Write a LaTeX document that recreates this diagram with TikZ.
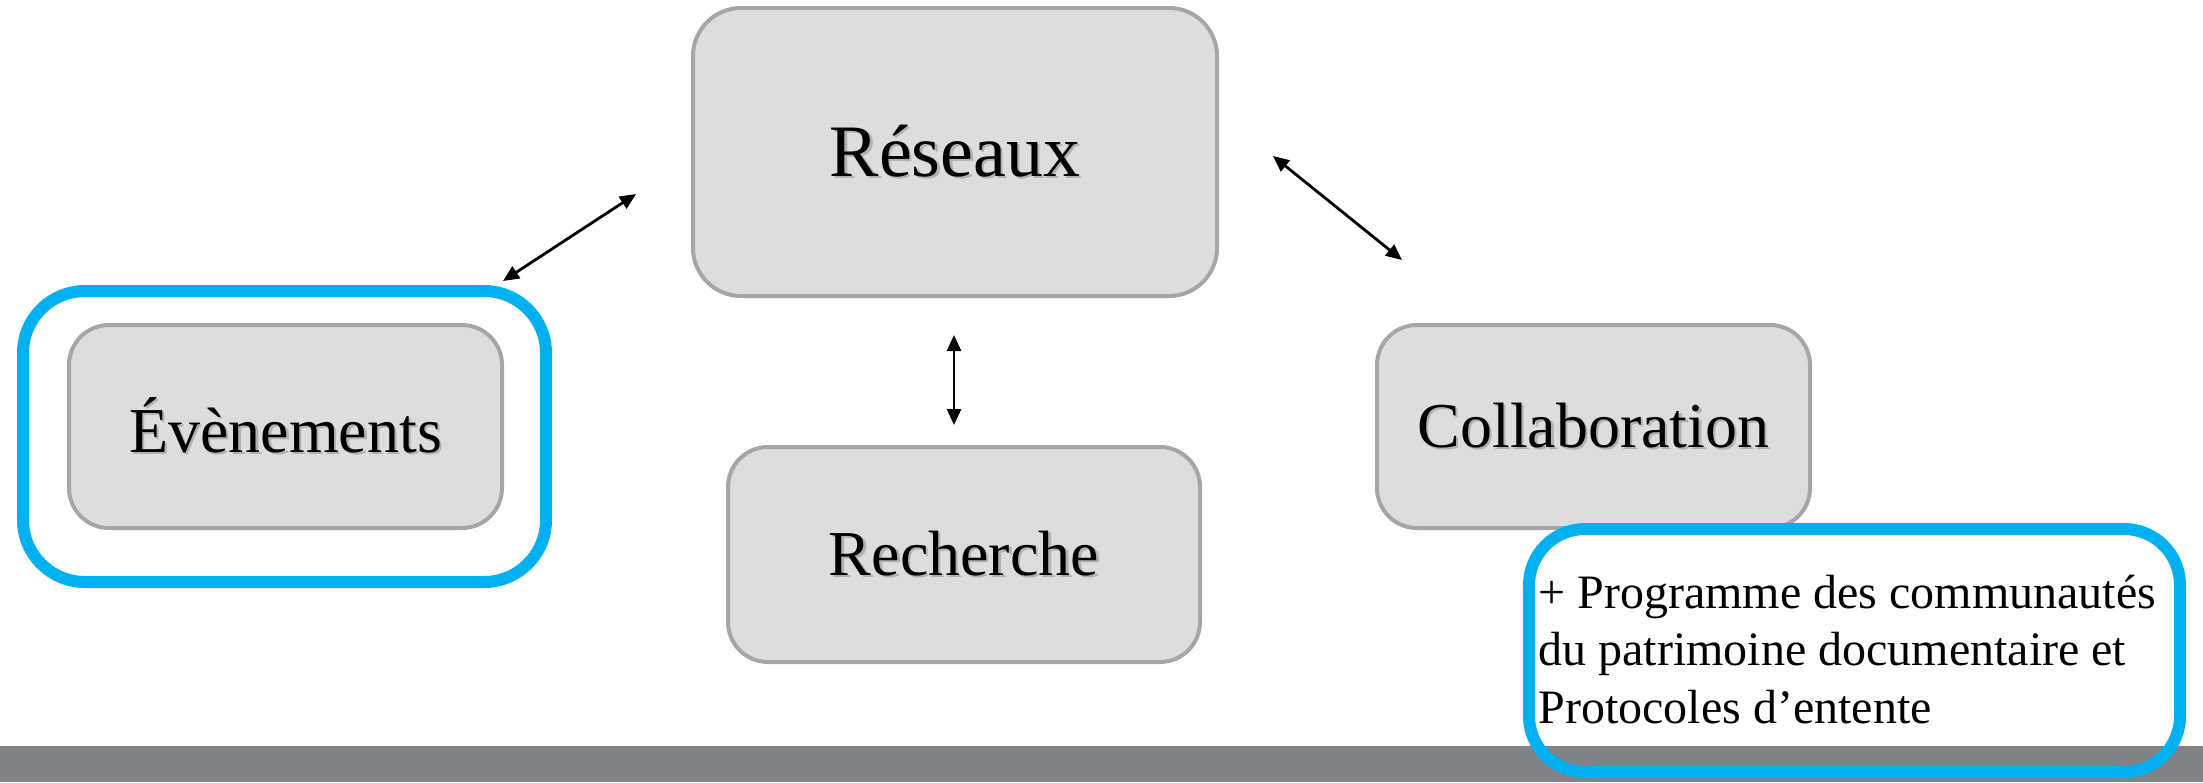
\documentclass[tikz,border=0pt]{standalone}
\usepackage{fontspec}
\setmainfont{Liberation Serif}
\usetikzlibrary{arrows.meta}
\definecolor{boxfill}{HTML}{DDDDDD}
\definecolor{boxline}{HTML}{A6A6A6}
\definecolor{hlblue}{HTML}{00B0F0}
\definecolor{bargray}{HTML}{818285}
\newcommand{\shtext}[1]{\rlap{\hspace{1.2pt}\raisebox{-1.2pt}{\textcolor{black!30}{#1}}}#1}
\begin{document}
\begin{tikzpicture}[x=0.5pt,y=-0.5pt,
  graybox/.style={draw=boxline, fill=boxfill, line width=2pt, rounded corners=20pt, inner sep=0pt},
  bluebox/.style={draw=hlblue, line width=6pt, rounded corners=30pt, inner sep=0pt},
  biarrow/.style={{Triangle[length=8pt,width=7pt]}-{Triangle[length=8pt,width=7pt]}, line width=1.4pt},
  lbl/.style={font=\fontsize{32}{38}\selectfont},
  biglbl/.style={font=\fontsize{37}{44}\selectfont}]
\useasboundingbox (0,0) rectangle (2203,782);
\fill[bargray] (0,746) rectangle (2203,782);
% boxes
\node[graybox, biglbl, minimum width=262pt, minimum height=144pt, rounded corners=24pt] (res) at (955,152) {\shtext{Réseaux}};
\node[bluebox, minimum width=261.5pt, minimum height=145.5pt, rounded corners=31pt] (evout) at (284.5,436.5) {};
\node[graybox, lbl, minimum width=216.5pt, minimum height=101.5pt] (ev) at (285.5,426.5) {\shtext{Évènements}};
\node[graybox, lbl, minimum width=236pt, minimum height=107.5pt] (rech) at (964,554.5) {\shtext{Recherche}};
\node[graybox, lbl, minimum width=216.5pt, minimum height=101.5pt] (coll) at (1593.5,426.5) {\shtext{Collaboration}};
\node[bluebox, minimum width=325.5pt, minimum height=121.5pt, rounded corners=28pt] (prog) at (1854.5,650.5) {};
\node[anchor=base west, align=left, inner sep=0pt, font=\fontsize{24}{28.75}\selectfont] (progtxt) at (1538,723)
  {+ Programme des communautés\\du patrimoine documentaire et\\Protocoles d’entente};
% arrow end points
\coordinate (a1) at (503,281);
\coordinate (a2) at (636,194);
\coordinate (b1) at (954,335);
\coordinate (b2) at (954,425);
\coordinate (c1) at (1273,156);
\coordinate (c2) at (1402,260);
\draw[biarrow] (a1) -- (a2);
\draw[biarrow] (b1) -- (b2);
\draw[biarrow] (c1) -- (c2);
\end{tikzpicture}
\end{document}
